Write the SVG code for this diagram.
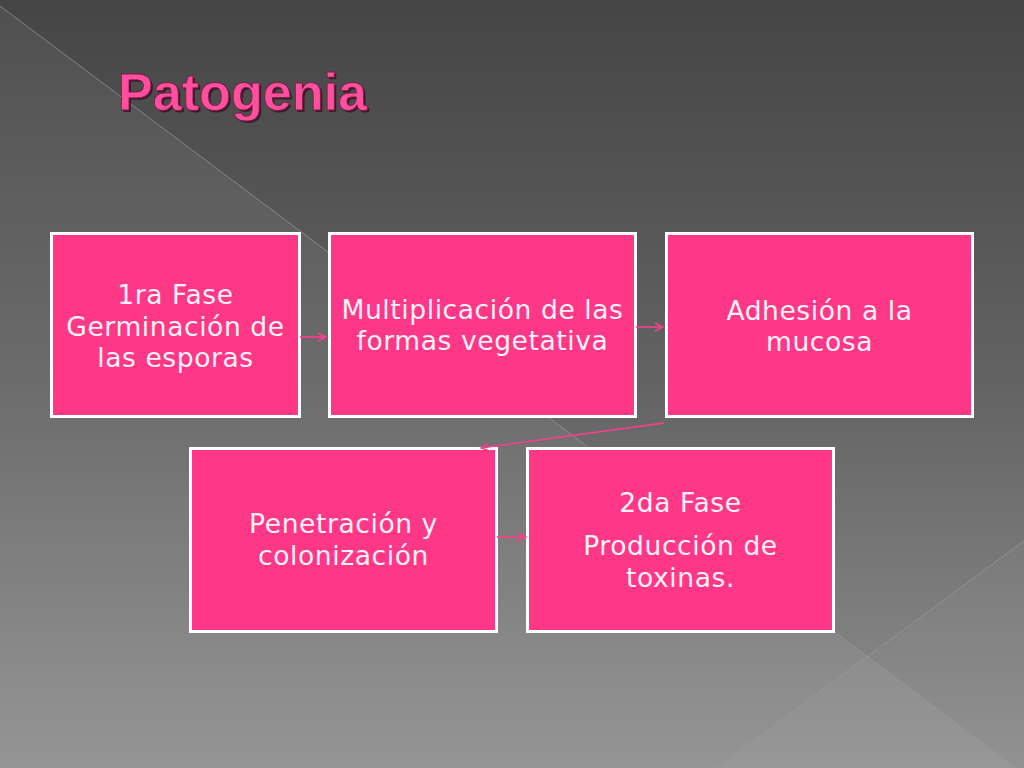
<svg xmlns="http://www.w3.org/2000/svg" width="1024" height="768" viewBox="0 0 1024 768">
  <defs>
    <linearGradient id="bg" x1="0" y1="0" x2="0" y2="1">
      <stop offset="0" stop-color="#454545"/>
      <stop offset="0.5" stop-color="#636363"/>
      <stop offset="1" stop-color="#8f8f8f"/>
    </linearGradient>
    <marker id="chev" viewBox="0 0 10 10" refX="9" refY="5" markerWidth="10" markerHeight="10" markerUnits="userSpaceOnUse" orient="auto">
      <path d="M1,1 L9,5 L1,9" fill="none" stroke="#ff3d8d" stroke-width="1.4"/>
    </marker>
    <style>
      .box { fill: #ff3787; stroke: #ffffff; stroke-width: 3; }
      .lbl { font-family: "DejaVu Sans", "Liberation Sans", sans-serif; font-size: 26.5px; letter-spacing: 0.6px; fill: #fff2f7; text-anchor: middle; }
      .conn { fill: none; stroke: #ff3d8d; stroke-width: 1.6; marker-end: url(#chev); }
      .bgline { stroke: #9a9a9a; stroke-width: 1; fill: none; opacity: 0.7; }
    </style>
  </defs>

  <g id="background">
    <rect x="0" y="0" width="1024" height="768" fill="url(#bg)"/>
    <polygon points="0,6 1016,768 0,768" fill="#ffffff" opacity="0.06"/>
    <polygon points="716,768 1024,541 1024,768" fill="#ffffff" opacity="0.03"/>
    <line class="bgline" x1="0" y1="6" x2="1016" y2="768"/>
    <line class="bgline" x1="716" y1="768" x2="1024" y2="541"/>
  </g>

  <g id="title">
    <text x="120" y="112" font-family="Liberation Sans, Arial, sans-serif" font-weight="bold" font-size="52" fill="#3a1024" opacity="0.8" textLength="249" lengthAdjust="spacingAndGlyphs">Patogenia</text>
    <text x="118" y="110" font-family="Liberation Sans, Arial, sans-serif" font-weight="bold" font-size="52" fill="#ff4f9e" stroke="#7a1c44" stroke-width="0.8" textLength="249" lengthAdjust="spacingAndGlyphs">Patogenia</text>
  </g>

  <g id="node1">
    <rect class="box" x="51.5" y="233.5" width="248" height="183"/>
    <text class="lbl" x="175.5" y="304">1ra Fase</text>
    <text class="lbl" x="175.5" y="336">Germinación de</text>
    <text class="lbl" x="175.5" y="367">las esporas</text>
  </g>

  <g id="node2">
    <rect class="box" x="329.5" y="233.5" width="306" height="183"/>
    <text class="lbl" x="482.5" y="319">Multiplicación de las</text>
    <text class="lbl" x="482.5" y="350">formas vegetativa</text>
  </g>

  <g id="node3">
    <rect class="box" x="666.5" y="233.5" width="306" height="183"/>
    <text class="lbl" x="819.5" y="320">Adhesión a la</text>
    <text class="lbl" x="819.5" y="351">mucosa</text>
  </g>

  <g id="node4">
    <rect class="box" x="190.5" y="448.5" width="306" height="183"/>
    <text class="lbl" x="343.5" y="533">Penetración y</text>
    <text class="lbl" x="343.5" y="565">colonización</text>
  </g>

  <g id="node5">
    <rect class="box" x="527.5" y="448.5" width="306" height="183"/>
    <text class="lbl" x="680.5" y="512">2da Fase</text>
    <text class="lbl" x="680.5" y="555">Producción de</text>
    <text class="lbl" x="680.5" y="587">toxinas.</text>
  </g>

  <g id="connectors">
    <line class="conn" x1="300" y1="337" x2="326" y2="337"/>
    <line class="conn" x1="636" y1="327" x2="663" y2="327"/>
    <line class="conn" x1="664" y1="423" x2="481" y2="448"/>
    <line class="conn" x1="497" y1="537" x2="526" y2="537"/>
  </g>
</svg>
